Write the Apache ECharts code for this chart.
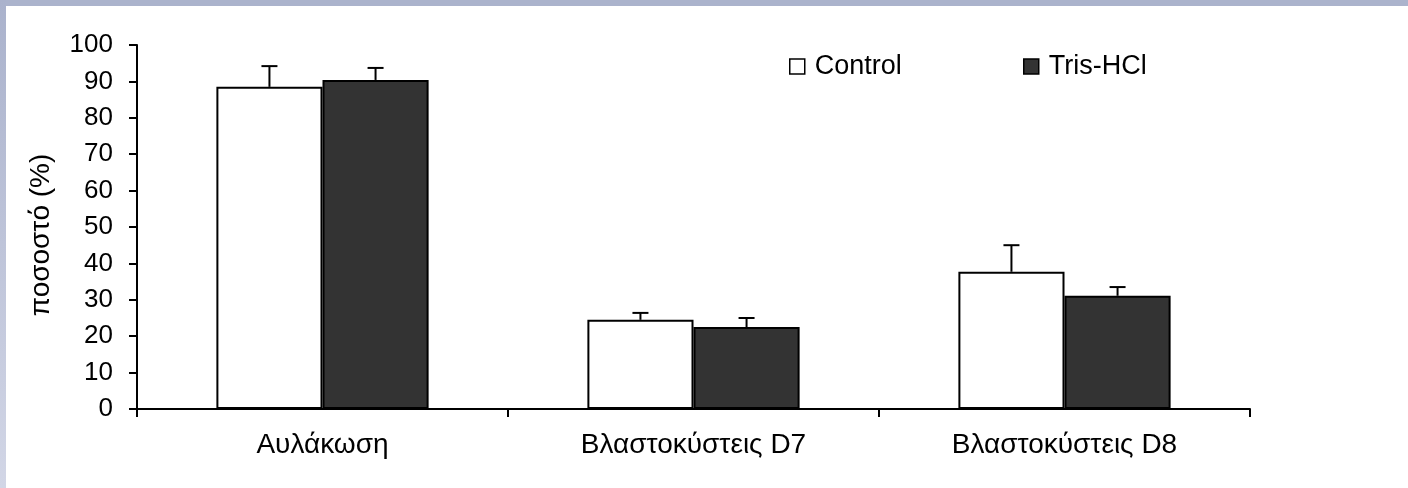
<!DOCTYPE html>
<html>
<head>
<meta charset="utf-8">
<script src="https://cdn.jsdelivr.net/npm/echarts@6/dist/echarts.min.js"></script>
<style>
html,body{margin:0;padding:0;background:#fff;}
#chart{position:absolute;left:0;top:0;width:1408px;height:488px;}
#topband{position:absolute;left:0;top:0;width:1408px;height:6px;background:#abb3cc;z-index:2;}
#leftband{position:absolute;left:0;top:0;width:6px;height:488px;background:linear-gradient(#aab2cc,#d2d6e6);z-index:2;}
</style>
</head>
<body>
<div id="chart"></div>
<div id="topband"></div>
<div id="leftband"></div>
<script>
const categories = ['Αυλάκωση', 'Βλαστοκύστεις D7', 'Βλαστοκύστεις D8'];
const controlValues = [88.5, 24.5, 37.7];
const controlErrorTop = [94.2, 26.4, 45.0];
const trisValues = [90.4, 22.5, 31.1];
const trisErrorTop = [93.7, 25.0, 33.5];
const yTicks = [0, 10, 20, 30, 40, 50, 60, 70, 80, 90, 100];

const BAR_FRAC = 0.286;
const font = 'Liberation Sans, Arial, sans-serif';

function errorSeries(tops, values, side) {
  return {
    type: 'custom',
    silent: true,
    z: 5,
    data: tops.map((t, i) => [i, t, values[i]]),
    renderItem: function (params, api) {
      const catW = api.size([1, 0])[0];
      const off = side * catW * BAR_FRAC / 2;
      const top = api.coord([api.value(0), api.value(1)]);
      const base = api.coord([api.value(0), api.value(2)]);
      const x = top[0] + off;
      const cap = 8;
      return {
        type: 'group',
        children: [
          {type: 'line', shape: {x1: x, y1: base[1], x2: x, y2: top[1]}, style: {stroke: '#000', lineWidth: 2}},
          {type: 'line', shape: {x1: x - cap, y1: top[1], x2: x + cap, y2: top[1]}, style: {stroke: '#000', lineWidth: 2}}
        ]
      };
    }
  };
}

const legendText = {fontSize: 27, color: '#000', fontFamily: font, padding: [0, 0, 0, 5]};

const chart = echarts.init(document.getElementById('chart'));
chart.setOption({
  animation: false,
  backgroundColor: '#fff',
  textStyle: {fontFamily: font},
  grid: {left: 137, right: 158, top: 45, bottom: 79, containLabel: false},
  legend: [
    {data: ['Control'], left: 784, top: 48, icon: 'rect', itemWidth: 15, itemHeight: 15, itemGap: 0,
     itemStyle: {borderWidth: 1.5, borderColor: '#000'}, textStyle: legendText},
    {data: ['Tris-HCl'], left: 1018, top: 48, icon: 'rect', itemWidth: 15, itemHeight: 15, itemGap: 0,
     itemStyle: {borderWidth: 1.5, borderColor: '#000'}, textStyle: legendText}
  ],
  xAxis: {
    type: 'category',
    data: categories,
    axisLine: {lineStyle: {color: '#000', width: 2}},
    axisTick: {show: true, length: 8, lineStyle: {color: '#000', width: 2}},
    axisLabel: {color: '#000', fontSize: 28, margin: 22, fontFamily: font}
  },
  yAxis: {
    type: 'value',
    min: 0, max: 100, interval: 10,
    name: 'ποσοστό (%)',
    nameLocation: 'middle',
    nameGap: 82,
    nameRotate: 90,
    nameTextStyle: {color: '#000', fontSize: 28, fontFamily: font, padding: [0, 16, 0, 0]},
    splitLine: {show: false},
    axisLine: {show: true, lineStyle: {color: '#000', width: 2}},
    axisTick: {show: true, length: 8, lineStyle: {color: '#000', width: 2}},
    axisLabel: {color: '#000', fontSize: 26, margin: 24, fontFamily: font,
      formatter: function (v) { return yTicks.indexOf(v) >= 0 ? String(v) : ''; }}
  },
  series: [
    {name: 'Control', type: 'bar', data: controlValues, barWidth: (BAR_FRAC * 100) + '%', barGap: '0%',
     itemStyle: {color: '#ffffff', borderColor: '#000', borderWidth: 2}},
    {name: 'Tris-HCl', type: 'bar', data: trisValues, barWidth: (BAR_FRAC * 100) + '%', barGap: '0%',
     itemStyle: {color: '#333333', borderColor: '#000', borderWidth: 2}},
    errorSeries(controlErrorTop, controlValues, -1),
    errorSeries(trisErrorTop, trisValues, 1)
  ]
});
</script>
</body>
</html>
